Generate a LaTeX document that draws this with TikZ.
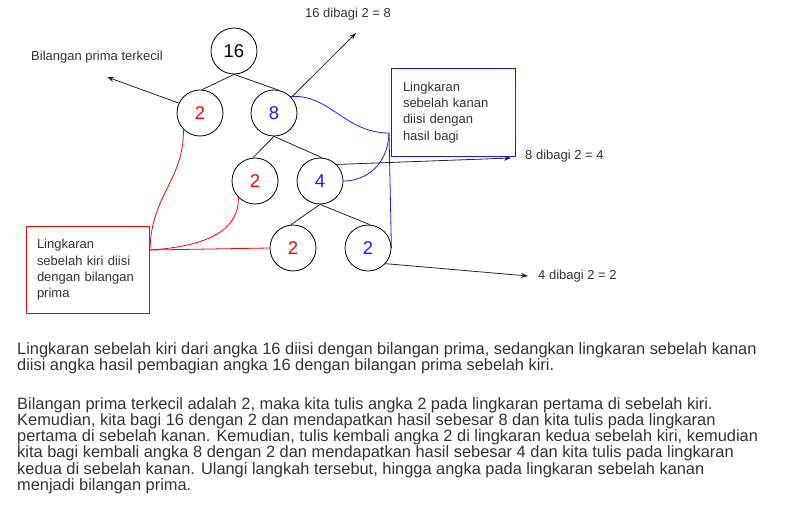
\documentclass[tikz,border=0pt]{standalone}
\usepackage{fontspec}
\setmainfont{Liberation Sans}
\usetikzlibrary{arrows.meta}
\definecolor{txt}{HTML}{333333}
\definecolor{myred}{HTML}{FF0000}
\definecolor{myblue}{HTML}{1A1AFF}
\begin{document}
\begin{tikzpicture}[x=1pt,y=-1pt,
  num/.style={circle,draw=black,line width=0.8pt,minimum size=46pt,inner sep=0pt,font=\fontsize{18.5}{18.5}\selectfont},
  edge/.style={draw=black!85,line width=0.8pt},
  arr/.style={draw=black!85,line width=0.8pt,-{Stealth[length=7pt,width=5pt]}},
  lbl/.style={font=\fontsize{13}{13}\selectfont,text=txt,inner sep=0pt},
  boxtext/.style={rectangle,minimum width=122pt,minimum height=86pt,text width=102pt,align=left,inner sep=0pt,font=\fontsize{13}{16.3}\selectfont,text=txt},
  frame/.style={line width=1pt},
  redc/.style={draw=myred,line width=0.8pt},
  bluec/.style={draw=myblue,line width=0.8pt},
  para/.style={anchor=base west,inner sep=0pt,font=\fontsize{16.4}{16.4}\selectfont,text=txt}
]
\useasboundingbox (0,0) rectangle (788,525);
% circles
\node[num] (n16) at (234,51) {16};
\node[num,text=myred] (r1) at (200,113) {2};
\node[num,text=myblue] (b1) at (274,113) {8};
\node[num,text=myred] (r2) at (255,181) {2};
\node[num,text=myblue] (b2) at (320,181) {4};
\node[num,text=myred] (r3) at (293,248) {2};
\node[num,text=myblue] (b3) at (368,248) {2};
% tree edges
\draw[edge] (n16.south) -- (r1.85);
\draw[edge] (n16.south) -- (b1.80);
\draw[edge] (b1.south) -- (r2.95);
\draw[edge] (b1.south) -- (b2.85);
\draw[edge] (b2.south) -- (r3.95);
\draw[edge] (b2.south) -- (b3.85);
% labels and arrows
\node[lbl] (lprima) at (97,57) {Bilangan prima terkecil};
\coordinate (e1) at (107,77);
\draw[arr] (r1.155) -- (e1);
\node[lbl] (l8) at (348,14) {16 dibagi 2 = 8};
\coordinate (e2) at (356,33);
\draw[arr] (b1.42) -- (e2);
\node[lbl,anchor=west] (l4) at (525,156) {8 dibagi 2 = 4};
\coordinate (e3) at (511,158);
\draw[arr] (b2.45) -- (e3);
\node[lbl,anchor=west] (l2) at (538,276) {4 dibagi 2 = 2};
\coordinate (e4) at (528,276);
\draw[arr] (b3.-42) -- (e4);
% boxes
\node[boxtext] (kiri) at (88,270) {Lingkaran\\sebelah kiri diisi\\dengan bilangan\\prima};
\node[boxtext,minimum width=123pt,minimum height=87pt,text width=101pt,font=\fontsize{13}{16.2}\selectfont] (kanan) at (453.5,112.5) {Lingkaran\\sebelah kanan\\diisi dengan\\hasil bagi};
\draw[frame,myred] (kiri.south west) rectangle (kiri.north east);
\draw[frame,myblue] (kanan.south west) rectangle (kanan.north east);
% red connectors
\coordinate (K) at (150,250);
\draw[redc] (K) .. controls (151,195) and (184,180) .. (r1.-135);
\draw[redc] (K) .. controls (212,246) and (239,228) .. (r2.-135);
\draw[redc] (K) -- (r3.west);
% blue connectors
\coordinate (J) at (389,133);
\draw[bluec] (b1.45) .. controls (330,94) and (345,133) .. (J);
\draw[bluec] (J) .. controls (388,165) and (366,181) .. (b2.east);
\draw[bluec] (J) -- (b3.east);
% paragraph
\node[para] (p1) at (17,354) {Lingkaran sebelah kiri dari angka 16 diisi dengan bilangan prima, sedangkan lingkaran sebelah kanan};
\node[para] (p2) at (17,370.3) {diisi angka hasil pembagian angka 16 dengan bilangan prima sebelah kiri.};
\node[para] (p3) at (17,409.6) {Bilangan prima terkecil adalah 2, maka kita tulis angka 2 pada lingkaran pertama di sebelah kiri.};
\node[para] (p4) at (17,425.7) {Kemudian, kita bagi 16 dengan 2 dan mendapatkan hasil sebesar 8 dan kita tulis pada lingkaran};
\node[para] (p5) at (17,441.8) {pertama di sebelah kanan. Kemudian, tulis kembali angka 2 di lingkaran kedua sebelah kiri, kemudian};
\node[para] (p6) at (17,457.9) {kita bagi kembali angka 8 dengan 2 dan mendapatkan hasil sebesar 4 dan kita tulis pada lingkaran};
\node[para] (p7) at (17,474) {kedua di sebelah kanan. Ulangi langkah tersebut, hingga angka pada lingkaran sebelah kanan};
\node[para] (p8) at (17,490.1) {menjadi bilangan prima.};
\end{tikzpicture}
\end{document}
